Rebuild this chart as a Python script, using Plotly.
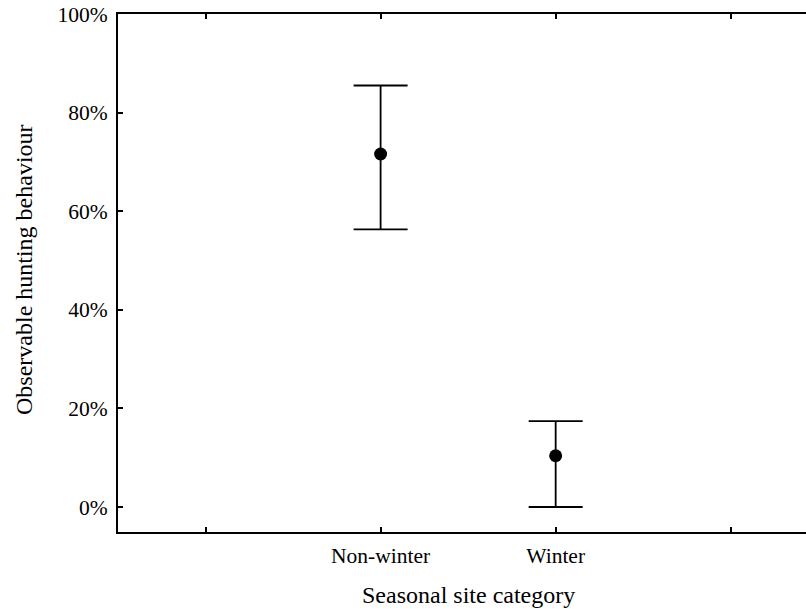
import plotly.graph_objects as go

categories = ["Non-winter", "Winter"]
positions = [1, 2]
means = [71.6, 10.4]
upper = [85.5, 17.4]
lower = [56.3, 0.0]
tick_vals = [0, 1, 2, 3]
tick_text = ["", "Non-winter", "Winter", ""]
y_ticks = [0, 20, 40, 60, 80, 100]
y_tick_text = ["0%", "20%", "40%", "60%", "80%", "100%"]

err_plus = [u - m for u, m in zip(upper, means)]
err_minus = [m - l for m, l in zip(means, lower)]

font = "Liberation Serif, Times New Roman, serif"

fig = go.Figure()
fig.add_trace(go.Scatter(
    x=positions, y=means, mode="markers",
    marker=dict(color="black", size=13),
    error_y=dict(type="data", symmetric=False, array=err_plus, arrayminus=err_minus,
                 color="black", thickness=1.8, width=27),
    showlegend=False,
))

fig.update_layout(
    width=806, height=609,
    margin=dict(l=118, r=0, t=14, b=77),
    paper_bgcolor="white", plot_bgcolor="white",
    font=dict(family=font, size=22, color="black"),
    xaxis=dict(range=[-0.5, 3.43], tickvals=tick_vals, ticktext=tick_text,
               showgrid=False, zeroline=False, showline=True, linecolor="black",
               linewidth=2, mirror="ticks", ticks="inside", ticklen=5, tickwidth=2,
               tickcolor="black", tickfont=dict(size=21.5, family=font),
               ticklabelstandoff=3),
    yaxis=dict(range=[-5.07, 100], tickvals=y_ticks, ticktext=y_tick_text,
               showgrid=False, zeroline=False, showline=True, linecolor="black",
               linewidth=2, ticks="inside", ticklen=5, tickwidth=2, tickcolor="black",
               tickfont=dict(size=21.5, family=font), ticklabelstandoff=4),
    annotations=[
        dict(text="Seasonal site category", xref="x", yref="paper", x=1.5, y=0,
             yshift=-63, showarrow=False, font=dict(size=24, family=font),
             xanchor="center", yanchor="middle"),
        dict(text="Observable hunting behaviour", xref="paper", yref="paper", x=0, y=0.5,
             xshift=-94, yshift=3, showarrow=False, textangle=-90,
             font=dict(size=24, family=font),
             xanchor="center", yanchor="middle"),
    ],
)

fig.write_html("out.html")
